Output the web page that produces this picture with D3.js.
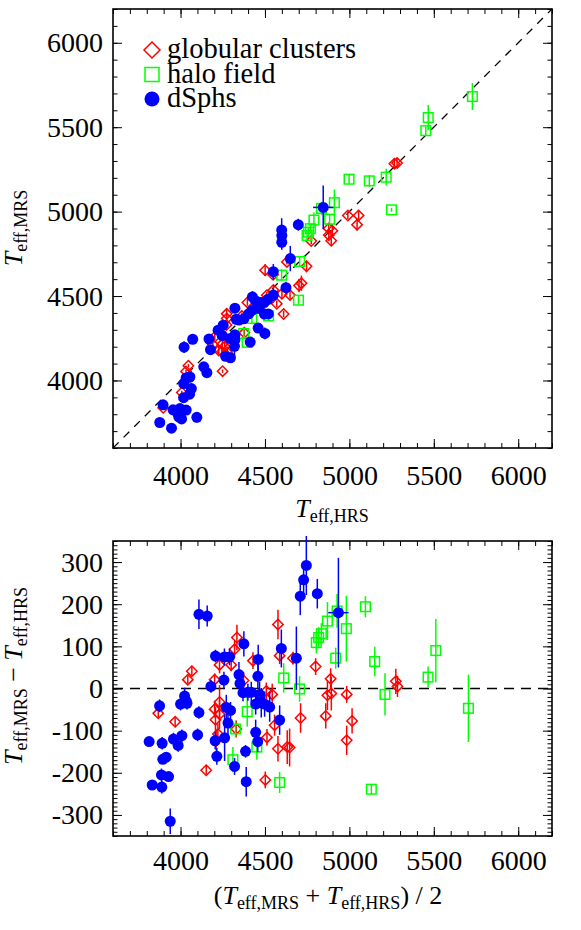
<!DOCTYPE html>
<html lang="en"><head><meta charset="utf-8">
<script src="https://cdn.jsdelivr.net/npm/d3@7"></script>
<style>
body { margin: 0; background: #fff; }
svg text { font-family: "Liberation Serif", "Times New Roman", Times, serif; }
</style>
</head><body>
<div id="chart"></div>
<script>
// values: mean Teff, MRS - HRS difference, error
const gcMean = [4577, 4334, 4320, 4231, 4300, 4429, 4587, 4666, 4800, 4067, 4043, 4202, 4373, 4889, 5275, 5285, 4508, 4543, 4870, 4893, 4984,
                3868, 3968, 4202, 4231, 4207, 4231, 4330, 4557, 4711, 4860, 5016, 4984, 4512, 4577, 4632, 4646, 4152, 4502, 4211, 4221];
const gcDiff = [152, 121, 93, 56, 56, 66, 78, 72, 52, 41, 21, 21, 19, 23, 17, 5, -6, -14, -16, -12, -14,
                -59, -79, -49, -32, -74, -61, -96, -87, -70, -65, -77, -123, -116, -143, -139, -140, -194, -217, -123, -108];
const gcErr  = [35, 30, 20, 20, 15, 20, 20, 15, 20, 10, 10, 15, 20, 25, 30, 25, 20, 25, 35, 40, 20,
                10, 10, 20, 40, 30, 35, 20, 25, 35, 30, 30, 35, 20, 30, 40, 45, 10, 20, 25, 25];

const haloMean = [5095, 5150, 5211, 5466, 5512, 5705, 5130, 4982, 4927, 4870, 4834, 4818, 4804, 4919, 4705, 4611, 4395, 4326, 4452, 4310, 4587];
const haloDiff = [194, 64, -14, 27, 90, -47, -239, 142, 184, 160, 130, 121, 109, 72, -1, 25, -55, -96, -139, -169, -223];
const haloErr  = [25, 35, 50, 25, 75, 80, 12, 78, 40, 45, 25, 25, 25, 25, 30, 35, 35, 20, 30, 30, 25];

const dsphMean = [4109, 4158, 4745, 4729, 4709, 4810, 4935, 4375, 4207, 4260, 4290, 4597, 4686, 4460, 4257, 4180, 4346, 4352, 4458,
                  4370, 4399, 4419, 4468, 4445, 4478, 4528, 4498, 4024, 4000, 4038, 3876, 4109, 4271, 4296, 4281, 4587, 4445, 4457,
                  4205, 4261, 4101, 4008, 3958, 3986, 3814, 3891, 4215, 4385, 4320, 4389, 3895, 3915, 3887, 3929, 3832, 3889, 3939, 4034];
const dsphDiff = [176, 172, 292, 258, 219, 225, 180, 106, 77, 75, 75, 95, 72, 69, 20, 5, 33, 12, 29,
                  -10, -9, -9, -14, -37, -34, -44, -37, -18, -37, -35, -41, -57, -45, -52, -82, -75, -104, -126,
                  -124, -117, -110, -112, -120, -135, -126, -130, -161, -149, -185, -221, -168, -163, -205, -209, -229, -234, -315, -30];
const dsphErr  = [35, 25, 70, 45, 45, 35, 130, 30, 15, 20, 20, 45, 75, 35, 20, 15, 30, 25, 30,
                  20, 20, 25, 30, 25, 35, 35, 30, 20, 15, 15, 15, 15, 30, 20, 40, 35, 30, 25,
                  20, 55, 15, 15, 15, 15, 10, 15, 20, 15, 20, 35, 10, 10, 15, 10, 10, 15, 30, 15];
const dsphXErr = [0, 0, 0, 15, 0, 0, 60, 0, 0, 0, 0, 0, 0, 0, 0, 0, 0, 0, 0,
                  0, 0, 0, 0, 0, 0, 0, 0, 0, 0, 0, 0, 0, 0, 0, 0, 0, 0, 0,
                  0, 0, 0, 0, 0, 0, 0, 0, 0, 0, 0, 0, 0, 0, 0, 0, 0, 0, 0, 0];

const teffTicks = [4000, 4500, 5000, 5500, 6000];
const diffTicks = [-300, -200, -100, 0, 100, 200, 300];

const FONT = "Liberation Serif, Times New Roman, Times, serif";

const svg = d3.select("#chart").append("svg")
    .attr("width", 581).attr("height", 930)
    .style("font-family", FONT);

var xT = d3.scaleLinear().domain([3600, 6200]).range([113, 552]);
var yT = d3.scaleLinear().domain([3600, 6200]).range([448, 9]);
var xB = d3.scaleLinear().domain([3600, 6200]).range([113, 552]);
var yB = d3.scaleLinear().domain([-350, 350]).range([836, 541]);

function pts(mean, diff, err, xerr) {
    return mean.map((m, i) => ({ mean: m, diff: diff[i], hrs: m - diff[i] / 2, mrs: m + diff[i] / 2,
                                 err: err[i], xerr: xerr ? xerr[i] : 0 }));
}
const gc = pts(gcMean, gcDiff, gcErr);
const halo = pts(haloMean, haloDiff, haloErr);
const dsph = pts(dsphMean, dsphDiff, dsphErr, dsphXErr);

function axes(x, y, xMajor, xMinor, yMajor, yMinor, xPad) {
    const [x0, x1] = x.range(), [y0, y1] = y.range();
    const put = (axis, tx, ty) => {
        const g = svg.append("g").attr("transform", `translate(${tx},${ty})`).call(axis);
        g.select(".domain").remove();
        g.attr("font-family", null).attr("font-size", 28);
        g.selectAll("text").style("font-family", FONT);
        g.selectAll("line").attr("stroke-width", 1);
        return g;
    };
    // minor ticks, all four sides
    put(d3.axisBottom(x).tickValues(xMinor).tickSize(-5).tickFormat(""), 0, y0);
    put(d3.axisTop(x).tickValues(xMinor).tickSize(-5).tickFormat(""), 0, y1);
    put(d3.axisLeft(y).tickValues(yMinor).tickSize(-4.5).tickFormat(""), x0, 0);
    put(d3.axisRight(y).tickValues(yMinor).tickSize(-4.5).tickFormat(""), x1, 0);
    // major ticks with labels
    put(d3.axisBottom(x).tickValues(xMajor).tickSize(-9).tickPadding(xPad).tickFormat(d3.format("d")), 0, y0);
    put(d3.axisTop(x).tickValues(xMajor).tickSize(-9).tickFormat(""), 0, y1);
    put(d3.axisLeft(y).tickValues(yMajor).tickSize(-9).tickPadding(10).tickFormat(d => d < 0 ? "-" + (-d) : "" + d), x0, 0);
    put(d3.axisRight(y).tickValues(yMajor).tickSize(-9).tickFormat(""), x1, 0);
    svg.append("rect").attr("x", x0).attr("y", y1).attr("width", x1 - x0).attr("height", y0 - y1)
        .attr("fill", "none").attr("stroke", "#000").attr("stroke-width", 1.6);
}

function marker(g, kind, color, cx, cy, s) {
    if (kind === "diamond") {
        g.append("path").attr("d", `M${cx},${cy - s}L${cx + s},${cy}L${cx},${cy + s}L${cx - s},${cy}Z`)
            .attr("fill", "none").attr("stroke", color).attr("stroke-width", 1.5);
    } else if (kind === "square") {
        g.append("rect").attr("x", cx - s).attr("y", cy - s).attr("width", 2 * s).attr("height", 2 * s)
            .attr("fill", "none").attr("stroke", color).attr("stroke-width", 1.5);
    } else {
        g.append("circle").attr("cx", cx).attr("cy", cy).attr("r", s).attr("fill", color);
    }
}

function plotGroup(data, kind, color, size, fx, fy, x, y) {
    const g = svg.append("g");
    data.forEach(d => {
        const px = x(fx(d)), py = y(fy(d));
        g.append("line").attr("x1", px).attr("x2", px)
            .attr("y1", y(fy(d) - d.err)).attr("y2", y(fy(d) + d.err))
            .attr("stroke", color).attr("stroke-width", 1.5);
        if (d.xerr) {
            g.append("line").attr("y1", py).attr("y2", py)
                .attr("x1", x(fx(d) - d.xerr)).attr("x2", x(fx(d) + d.xerr))
                .attr("stroke", color).attr("stroke-width", 1.5);
        }
        marker(g, kind, color, px, py, size);
    });
}

const groups = [
    { data: gc, kind: "diamond", color: "#ff0000", size: 5.2, legSize: 8, label: "globular clusters" },
    { data: halo, kind: "square", color: "#00ff00", size: 4.8, legSize: 7, label: "halo field" },
    { data: dsph, kind: "circle", color: "#0000ff", size: 5.5, legSize: 7.5, label: "dSphs" }
];

// ---- top panel: MRS vs HRS
axes(xT, yT, teffTicks, d3.range(3600, 6201, 100), teffTicks, d3.range(3600, 6201, 100), 17);
svg.append("line").attr("x1", xT(3600)).attr("y1", yT(3600)).attr("x2", xT(6200)).attr("y2", yT(6200))
    .attr("stroke", "#000").attr("stroke-width", 1.3).attr("stroke-dasharray", "8,7");
groups.forEach(gr => plotGroup(gr.data, gr.kind, gr.color, gr.size, d => d.hrs, d => d.mrs, xT, yT));

// legend
groups.forEach((gr, i) => {
    const ly = 50 + i * 24.5;
    marker(svg, gr.kind, gr.color, 152, ly, gr.legSize);
    svg.append("text").attr("x", 167).attr("y", ly + 8).attr("font-size", 28.5).text(gr.label);
});

// ---- bottom panel: difference vs mean
axes(xB, yB, teffTicks, d3.range(3600, 6201, 100), diffTicks, d3.range(-350, 351, 10), 14);
svg.append("line").attr("x1", xB(3600)).attr("x2", xB(6200)).attr("y1", yB(0)).attr("y2", yB(0))
    .attr("stroke", "#000").attr("stroke-width", 1.5).attr("stroke-dasharray", "10,7");
groups.forEach(gr => plotGroup(gr.data, gr.kind, gr.color, gr.size, d => d.mean, d => d.diff, xB, yB));

// ---- axis titles
function teff(t, sub) {
    t.append("tspan").attr("font-style", "italic").attr("font-size", 26).text("T");
    t.append("tspan").attr("font-size", 18).attr("dy", 5).text(sub);
}
let t = svg.append("text").attr("x", 332).attr("y", 517).attr("text-anchor", "middle");
teff(t, "eff,HRS");

t = svg.append("text").attr("transform", "translate(22,228) rotate(-90)").attr("text-anchor", "middle");
teff(t, "eff,MRS");

t = svg.append("text").attr("transform", "translate(22,676) rotate(-90)").attr("text-anchor", "middle");
teff(t, "eff,MRS");
t.append("tspan").attr("font-size", 26).attr("dy", -5).text(" \u2212 ");
teff(t, "eff,HRS");

t = svg.append("text").attr("x", 328).attr("y", 904).attr("text-anchor", "middle");
t.append("tspan").attr("font-size", 26).text("(");
teff(t, "eff,MRS");
t.append("tspan").attr("font-size", 26).attr("dy", -5).text(" + ");
teff(t, "eff,HRS");
t.append("tspan").attr("font-size", 26).attr("dy", -5).text(") / 2");
</script>
</body></html>
